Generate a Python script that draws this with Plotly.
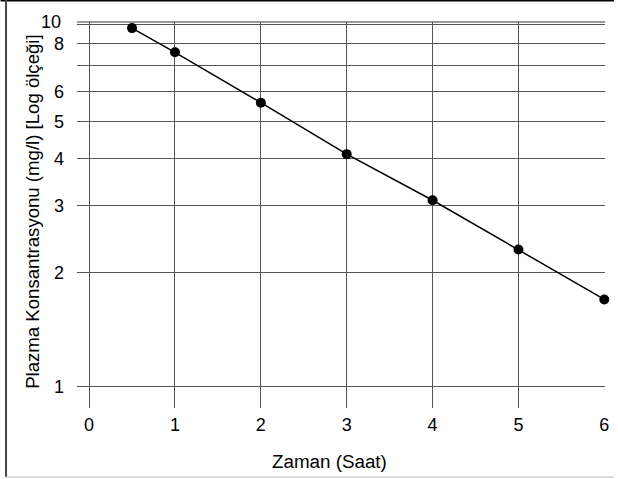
import plotly.graph_objects as go

# Data
time_h = [0.5, 1, 2, 3, 4, 5, 6]
conc = [8.8, 7.6, 5.6, 4.1, 3.1, 2.3, 1.7]

x_ticks = [0, 1, 2, 3, 4, 5, 6]
y_ticks = [1, 2, 3, 4, 5, 6, 7, 8, 9]
y_ticktext = ["1", "2", "3", "4", "5", "6", "", "8", ""]

W, H = 618, 479
L, R, T, B = 77, 9, 22, 71
pw, ph = W - L - R, H - T - B

def px(xp):
    return (xp - L) / pw

def py(yp):
    return (H - B - yp) / ph

FONT = "Liberation Sans, Arial, sans-serif"
GRID = "#555555"

fig = go.Figure()
fig.add_trace(go.Scatter(
    x=time_h, y=conc, mode="lines+markers",
    line=dict(color="black", width=1.5),
    marker=dict(color="black", size=10),
    cliponaxis=False,
    showlegend=False,
))

fig.update_layout(
    width=W, height=H,
    margin=dict(l=L, r=R, t=T, b=B),
    paper_bgcolor="white", plot_bgcolor="white",
    font=dict(family=FONT, size=18, color="black"),
    xaxis=dict(
        range=[-0.141, 6.008], tickvals=x_ticks,
        showgrid=True, gridcolor=GRID, gridwidth=1,
        zeroline=False, showline=False, ticks="",
        ticklabelstandoff=4,
    ),
    yaxis=dict(
        type="log", range=[-0.0553, 0.9605],
        tickvals=y_ticks, ticktext=y_ticktext,
        showgrid=True, gridcolor=GRID, gridwidth=1,
        zeroline=False, showline=False, ticks="",
        ticklabelstandoff=12,
    ),
    annotations=[
        dict(text="10", xref="paper", yref="paper", x=px(63), y=1.0,
             xanchor="right", yanchor="middle", showarrow=False,
             font=dict(family=FONT, size=18, color="black")),
        dict(text="Zaman (Saat)", xref="paper", yref="paper",
             x=px(331.5), y=py(461), xanchor="center", yanchor="middle",
             showarrow=False, font=dict(family=FONT, size=18.8, color="black")),
        dict(text="Plazma Konsantrasyonu (mg/l) [Log ölçeği]", xref="paper", yref="paper",
             x=px(32), y=py(211.5), xanchor="center", yanchor="middle", textangle=-90,
             showarrow=False, font=dict(family=FONT, size=18.6, color="black")),
    ],
    shapes=[
        dict(type="line", xref="paper", yref="paper", x0=0, x1=1, y0=1, y1=1,
             line=dict(color="#333333", width=1)),
        dict(type="line", xref="paper", yref="paper", x0=px(0), x1=px(W), y0=py(0.5), y1=py(0.5),
             line=dict(color="black", width=2)),
        dict(type="line", xref="paper", yref="paper", x0=px(5.5), x1=px(5.5), y0=py(0), y1=py(477),
             line=dict(color="#444444", width=2)),
        dict(type="line", xref="paper", yref="paper", x0=px(5), x1=px(W), y0=py(477), y1=py(477),
             line=dict(color="#bbbbbb", width=1)),
    ],
)

fig.write_html(
    "out.html",
    config={"displayModeBar": False},
    post_script="document.body.style.margin='0';document.body.style.overflow='hidden';",
)
